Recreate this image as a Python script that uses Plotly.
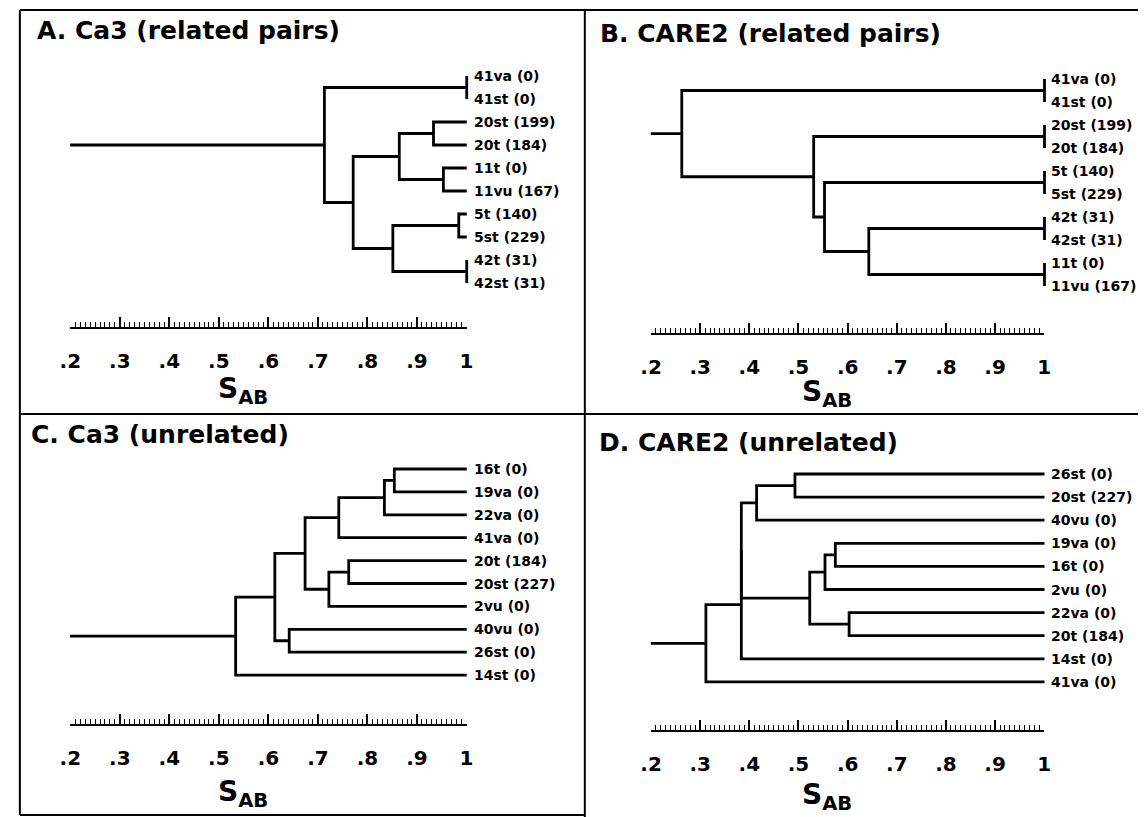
import plotly.graph_objects as go

# ---------------- data ----------------
titles = ["A. Ca3 (related pairs)", "B. CARE2 (related pairs)",
          "C. Ca3 (unrelated)", "D. CARE2 (unrelated)"]

leaves_A = ["41va (0)", "41st (0)", "20st (199)", "20t (184)", "11t (0)",
            "11vu (167)", "5t (140)", "5st (229)", "42t (31)", "42st (31)"]
# merges: (child, child, S_AB); leaves are 0..n-1, merge k becomes node n+k
merges_A = [(0, 1, 1.0), (2, 3, 0.933), (4, 5, 0.953), (11, 12, 0.864),
            (6, 7, 0.984), (8, 9, 1.0), (14, 15, 0.851), (13, 16, 0.771),
            (10, 17, 0.713)]

leaves_B = ["41va (0)", "41st (0)", "20st (199)", "20t (184)", "5t (140)",
            "5st (229)", "42t (31)", "42st (31)", "11t (0)", "11vu (167)"]
merges_B = [(0, 1, 1.0), (2, 3, 1.0), (4, 5, 1.0), (6, 7, 1.0), (8, 9, 1.0),
            (13, 14, 0.643), (12, 15, 0.553), (11, 16, 0.531), (10, 17, 0.263)]

leaves_C = ["16t (0)", "19va (0)", "22va (0)", "41va (0)", "20t (184)",
            "20st (227)", "2vu (0)", "40vu (0)", "26st (0)", "14st (0)"]
merges_C = [(0, 1, 0.854), (10, 2, 0.834), (11, 3, 0.742), (4, 5, 0.762),
            (13, 6, 0.722), (12, 14, 0.674), (7, 8, 0.642), (15, 16, 0.613),
            (17, 9, 0.534)]

leaves_D = ["26st (0)", "20st (227)", "40vu (0)", "19va (0)", "16t (0)",
            "2vu (0)", "22va (0)", "20t (184)", "14st (0)", "41va (0)"]
merges_D = [(0, 1, 0.493), (10, 2, 0.415), (3, 4, 0.575), (12, 5, 0.554),
            (6, 7, 0.603), (13, 14, 0.523), (11, 15, 0.384), (16, 8, 0.384),
            (17, 9, 0.312)]

scale_min, scale_max = 0.2, 1.0
tick_vals = [0.2, 0.3, 0.4, 0.5, 0.6, 0.7, 0.8, 0.9, 1.0]
tick_text = [".2", ".3", ".4", ".5", ".6", ".7", ".8", ".9", "1"]
axis_label = "S<sub>AB</sub>"

# ---------------- layout (pixel placement) ----------------
W, H = 1145, 817
FONT = "DejaVu Sans, Liberation Sans, Arial, sans-serif"

panels = [
    dict(leaves=leaves_A, merges=merges_A, title=titles[0], px0=60, px1=463,
         ly0=76, dly=23.0, scale_y=327, title_xy=(24, 30), sab_xy=(236, 391)),
    dict(leaves=leaves_B, merges=merges_B, title=titles[1], px0=650, px1=1050,
         ly0=79, dly=23.0, scale_y=333, title_xy=(596, 34), sab_xy=(829, 393)),
    dict(leaves=leaves_C, merges=merges_C, title=titles[2], px0=60, px1=463,
         ly0=469, dly=22.9, scale_y=724, title_xy=(18, 434), sab_xy=(236, 793)),
    dict(leaves=leaves_D, merges=merges_D, title=titles[3], px0=650, px1=1050,
         ly0=474, dly=23.1, scale_y=730, title_xy=(595, 442), sab_xy=(829, 796)),
]


def dendro_xy(n, merges):
    pos = {i: (scale_max, float(i)) for i in range(n)}
    xs, ys = [], []
    for k, (a, b, s) in enumerate(merges):
        xa, ya = pos[a]
        xb, yb = pos[b]
        xs += [xa, s, s, xb, None]
        ys += [ya, ya, yb, yb, None]
        pos[n + k] = (s, (ya + yb) / 2)
    rx, ry = pos[n + len(merges) - 1]
    xs += [rx, scale_min]
    ys += [ry, ry]
    return xs, ys


fig = go.Figure()
layout = dict(width=W, height=H, margin=dict(l=0, r=0, t=0, b=0),
              paper_bgcolor="white", plot_bgcolor="rgba(0,0,0,0)",
              showlegend=False, font=dict(family=FONT, color="black"))
annotations = []

XMIN, XMAX = 0.15, 1.1
for i, p in enumerate(panels, start=1):
    k = (p["px1"] - p["px0"]) / (scale_max - scale_min)

    def xpix(s, p=p, k=k):
        return p["px0"] + (s - scale_min) * k

    top_px = p["ly0"] - 40
    bot_px = p["scale_y"]
    xs, ys = dendro_xy(len(p["leaves"]), p["merges"])
    xa = "x" if i == 1 else f"x{i}"
    ya = "y" if i == 1 else f"y{i}"
    xs_name = f"x{i + 4}"
    fig.add_trace(go.Scatter(x=xs, y=ys, mode="lines", xaxis=xa, yaxis=ya,
                             line=dict(color="black", width=2.8),
                             hoverinfo="skip"))
    # invisible trace so the scale-bar axis gets drawn
    fig.add_trace(go.Scatter(x=[scale_min, scale_max], y=[0, 0], mode="markers",
                             xaxis=xs_name, yaxis=ya, marker=dict(opacity=0, size=1),
                             hoverinfo="skip"))
    kx = "xaxis" if i == 1 else f"xaxis{i}"
    ky = "yaxis" if i == 1 else f"yaxis{i}"
    layout[kx] = dict(domain=[xpix(XMIN) / W, xpix(XMAX) / W], range=[XMIN, XMAX],
                      visible=False, anchor=ya)
    layout[ky] = dict(domain=[1 - bot_px / H, 1 - top_px / H],
                      range=[(bot_px - p["ly0"]) / p["dly"], (top_px - p["ly0"]) / p["dly"]],
                      visible=False, anchor=xa)
    # scale bar axis
    layout[f"xaxis{i + 4}"] = dict(
        domain=[p["px0"] / W, p["px1"] / W], range=[scale_min - 0.0005, scale_max + 0.0005],
        anchor=ya, side="bottom", showline=True, linecolor="black", linewidth=1.6,
        showgrid=False, zeroline=False, ticks="inside", ticklen=10, tickwidth=1.5,
        tickcolor="black", tickvals=tick_vals, ticktext=[f"<b>{t}</b>" for t in tick_text],
        tickfont=dict(family=FONT, size=20, color="black", weight="bold"),
        ticklabelstandoff=15,
        minor=dict(dtick=0.01, tick0=0.2, ticks="inside", ticklen=5, tickwidth=1,
                   tickcolor="black", showgrid=False),
        fixedrange=True)
    # leaf labels
    for j, name in enumerate(p["leaves"]):
        annotations.append(dict(x=scale_max, y=j, xref=xa, yref=ya, text=f"<b>{name}</b>",
                                showarrow=False, xanchor="left", yanchor="middle",
                                xshift=5, font=dict(family=FONT, size=14, color="black")))
    # title
    tx, ty = p["title_xy"]
    annotations.append(dict(x=tx / W, y=1 - ty / H, xref="paper", yref="paper",
                            text=f"<b>{p['title']}</b>", showarrow=False,
                            xanchor="left", yanchor="middle",
                            font=dict(family=FONT, size=25, color="black")))
    sx, sy = p["sab_xy"]
    annotations.append(dict(x=sx / W, y=1 - sy / H, xref="paper", yref="paper",
                            text=f"<b>{axis_label}</b>", showarrow=False,
                            xanchor="center", yanchor="middle",
                            font=dict(family=FONT, size=28, color="black")))

layout["annotations"] = annotations


def hline(y, x0, x1):
    return dict(type="line", xref="paper", yref="paper", x0=x0 / W, x1=x1 / W,
                y0=1 - y / H, y1=1 - y / H, line=dict(color="black", width=2))


def vline(x, y0, y1):
    return dict(type="line", xref="paper", yref="paper", x0=x / W, x1=x / W,
                y0=1 - y0 / H, y1=1 - y1 / H, line=dict(color="black", width=2))


layout["shapes"] = [hline(10, 9, W), vline(9, 10, 815), vline(583, 10, H),
                    hline(414, 9, W), hline(815, 9, 583)]
fig.update_layout(**layout)
fig.write_html("out.html")
